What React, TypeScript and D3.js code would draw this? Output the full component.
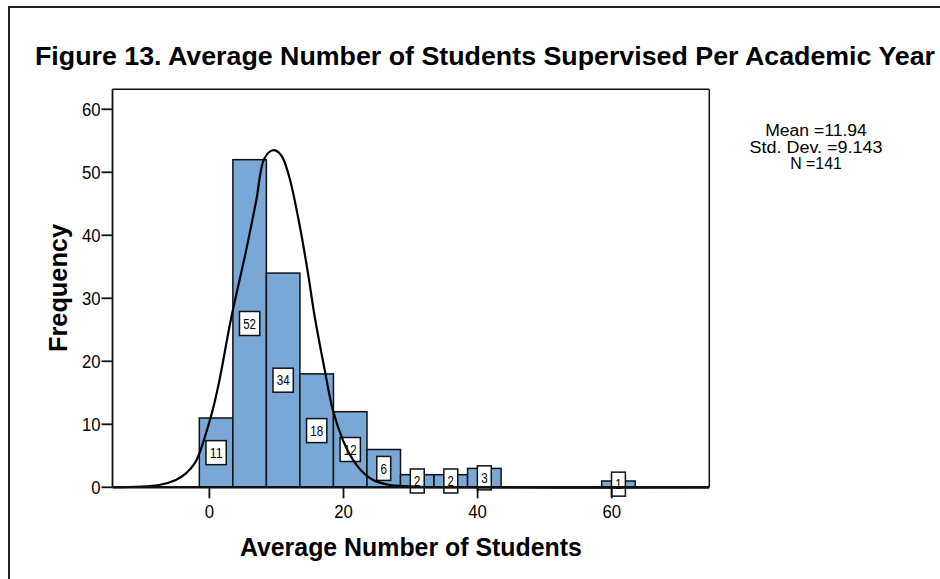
import React from "react";
import * as d3 from "d3";

// Histogram data (bin start values, width 5)
const binStarts = [-1.5, 3.5, 8.5, 13.5, 18.5, 23.5, 28.5, 33.5, 38.5, 58.5];
const binWidth = 5;
const counts = [11, 52, 34, 18, 12, 6, 2, 2, 3, 1];

// Overlay curve
const curveX = [-14.4, -7.5, -5.0, -3.5, -2.2, -1.4, -0.5, 0.5, 1.5, 3.2, 5.5, 7.0, 8.2, 9.5, 10.7, 11.9, 13.4, 14.7, 15.7, 17.2, 18.4, 19.9, 21.1, 22.6, 24.4, 26.9, 28.9, 34, 74.5];
const curveY = [0.02, 0.37, 1.16, 2.2, 3.8, 5.65, 8.6, 12.3, 17.0, 26.6, 37.7, 45.6, 52.2, 53.5, 52.7, 49.3, 41.9, 34.0, 27.1, 18.6, 12.3, 7.5, 4.9, 2.7, 1.16, 0.37, 0.2, 0.02, 0];

const xTicks = [0, 20, 40, 60];
const yTicks = [0, 10, 20, 30, 40, 50, 60];

const titleText = "Figure 13. Average Number of Students Supervised Per Academic Year";
const xLabel = "Average Number of Students";
const yLabel = "Frequency";
const statLines = ["Mean =11.94", "Std. Dev. =9.143", "N =141"];

const FONT = "'Liberation Sans', Arial, Helvetica, sans-serif";

export default function App() {
  const left = 112.5, right = 709.3, top = 89.3, bottom = 487.3;
  const x = d3.scaleLinear().domain([-14.45, 74.55]).range([left, right]);
  const y = d3.scaleLinear().domain([0, 63.17]).range([bottom, top]);

  const pts: [number, number][] = curveX.map((v, i) => [v, curveY[i]]);
  const line = d3
    .line<[number, number]>()
    .x((d) => x(d[0]))
    .y((d) => y(d[1]))
    .curve(d3.curveCatmullRom.alpha(0.5));

  const statWidths = [101.7, 133, 51.7];
  const statBase = [136.2, 152.8, 169.4];

  return (
    <svg
      width={940}
      height={579}
      style={{ position: "absolute", left: 0, top: 0, background: "#fff" }}
      fontFamily={FONT}
    >
      <rect x={0} y={0} width={940} height={579} fill="#fff" />
      {/* outer border */}
      <line x1={9} y1={7} x2={940} y2={7} stroke="#222" strokeWidth={2} />
      <line x1={9} y1={6} x2={9} y2={579} stroke="#222" strokeWidth={2} />

      {/* title */}
      <text
        x={35}
        y={65}
        fontSize={25}
        fontWeight="bold"
        textLength={900}
        lengthAdjust="spacingAndGlyphs"
        fill="#000"
      >
        {titleText}
      </text>

      {/* bars */}
      {counts.map((c, i) => (
        <rect
          key={"b" + i}
          x={x(binStarts[i])}
          y={y(c)}
          width={x(binStarts[i] + binWidth) - x(binStarts[i])}
          height={y(0) - y(c)}
          fill="#79a8d6"
          stroke="#111"
          strokeWidth={1.5}
        />
      ))}

      {/* count labels */}
      {counts.map((c, i) => {
        const s = String(c);
        const tw = s.length * 6.4;
        const bw = tw + 7.5;
        const cx = x(binStarts[i] + binWidth / 2);
        const cy = y(c / 2);
        return (
          <g key={"l" + i}>
            <rect x={cx - bw / 2} y={cy - 12} width={bw} height={24} fill="#fff" stroke="#111" strokeWidth={1.5} />
            <text
              x={cx}
              y={cy + 5.2}
              textAnchor="middle"
              fontSize={14.5}
              textLength={tw}
              lengthAdjust="spacingAndGlyphs"
              fill="#000"
            >
              {s}
            </text>
          </g>
        );
      })}

      {/* frame */}
      <line x1={left} y1={top} x2={right} y2={top} stroke="#111" strokeWidth={1.5} />
      <line x1={right} y1={top} x2={right} y2={bottom} stroke="#111" strokeWidth={1.5} />
      <line x1={left} y1={top} x2={left} y2={bottom} stroke="#111" strokeWidth={1.8} />

      {/* curve */}
      <path d={line(pts) || ""} fill="none" stroke="#000" strokeWidth={2.2} />

      <line x1={left} y1={bottom} x2={right} y2={bottom} stroke="#111" strokeWidth={2.5} />

      {/* y ticks */}
      {yTicks.map((t) => (
        <g key={"yt" + t}>
          <line x1={left - 11} x2={left} y1={y(t)} y2={y(t)} stroke="#111" strokeWidth={1.8} />
          <text x={left - 12} y={y(t) + 6.5} textAnchor="end" fontSize={18} textLength={String(t).length * 9.3} lengthAdjust="spacingAndGlyphs" fill="#000">
            {t}
          </text>
        </g>
      ))}

      {/* x ticks */}
      {xTicks.map((t) => (
        <g key={"xt" + t}>
          <line x1={x(t)} x2={x(t)} y1={bottom} y2={bottom + 11} stroke="#111" strokeWidth={1.8} />
          <text x={x(t)} y={517.5} textAnchor="middle" fontSize={18} textLength={String(t).length * 9.3} lengthAdjust="spacingAndGlyphs" fill="#000">
            {t}
          </text>
        </g>
      ))}

      {/* axis titles */}
      <text
        x={(left + right) / 2}
        y={556}
        textAnchor="middle"
        fontSize={25}
        fontWeight="bold"
        textLength={342}
        lengthAdjust="spacingAndGlyphs"
        fill="#000"
      >
        {xLabel}
      </text>
      <text
        transform="translate(67,288) rotate(-90)"
        textAnchor="middle"
        fontSize={25}
        fontWeight="bold"
        textLength={128}
        lengthAdjust="spacingAndGlyphs"
        fill="#000"
      >
        {yLabel}
      </text>

      {/* stats */}
      {statLines.map((s, i) => (
        <text
          key={"s" + i}
          x={816}
          y={statBase[i]}
          textAnchor="middle"
          fontSize={16}
          textLength={statWidths[i]}
          lengthAdjust="spacingAndGlyphs"
          fill="#000"
        >
          {s}
        </text>
      ))}
    </svg>
  );
}
